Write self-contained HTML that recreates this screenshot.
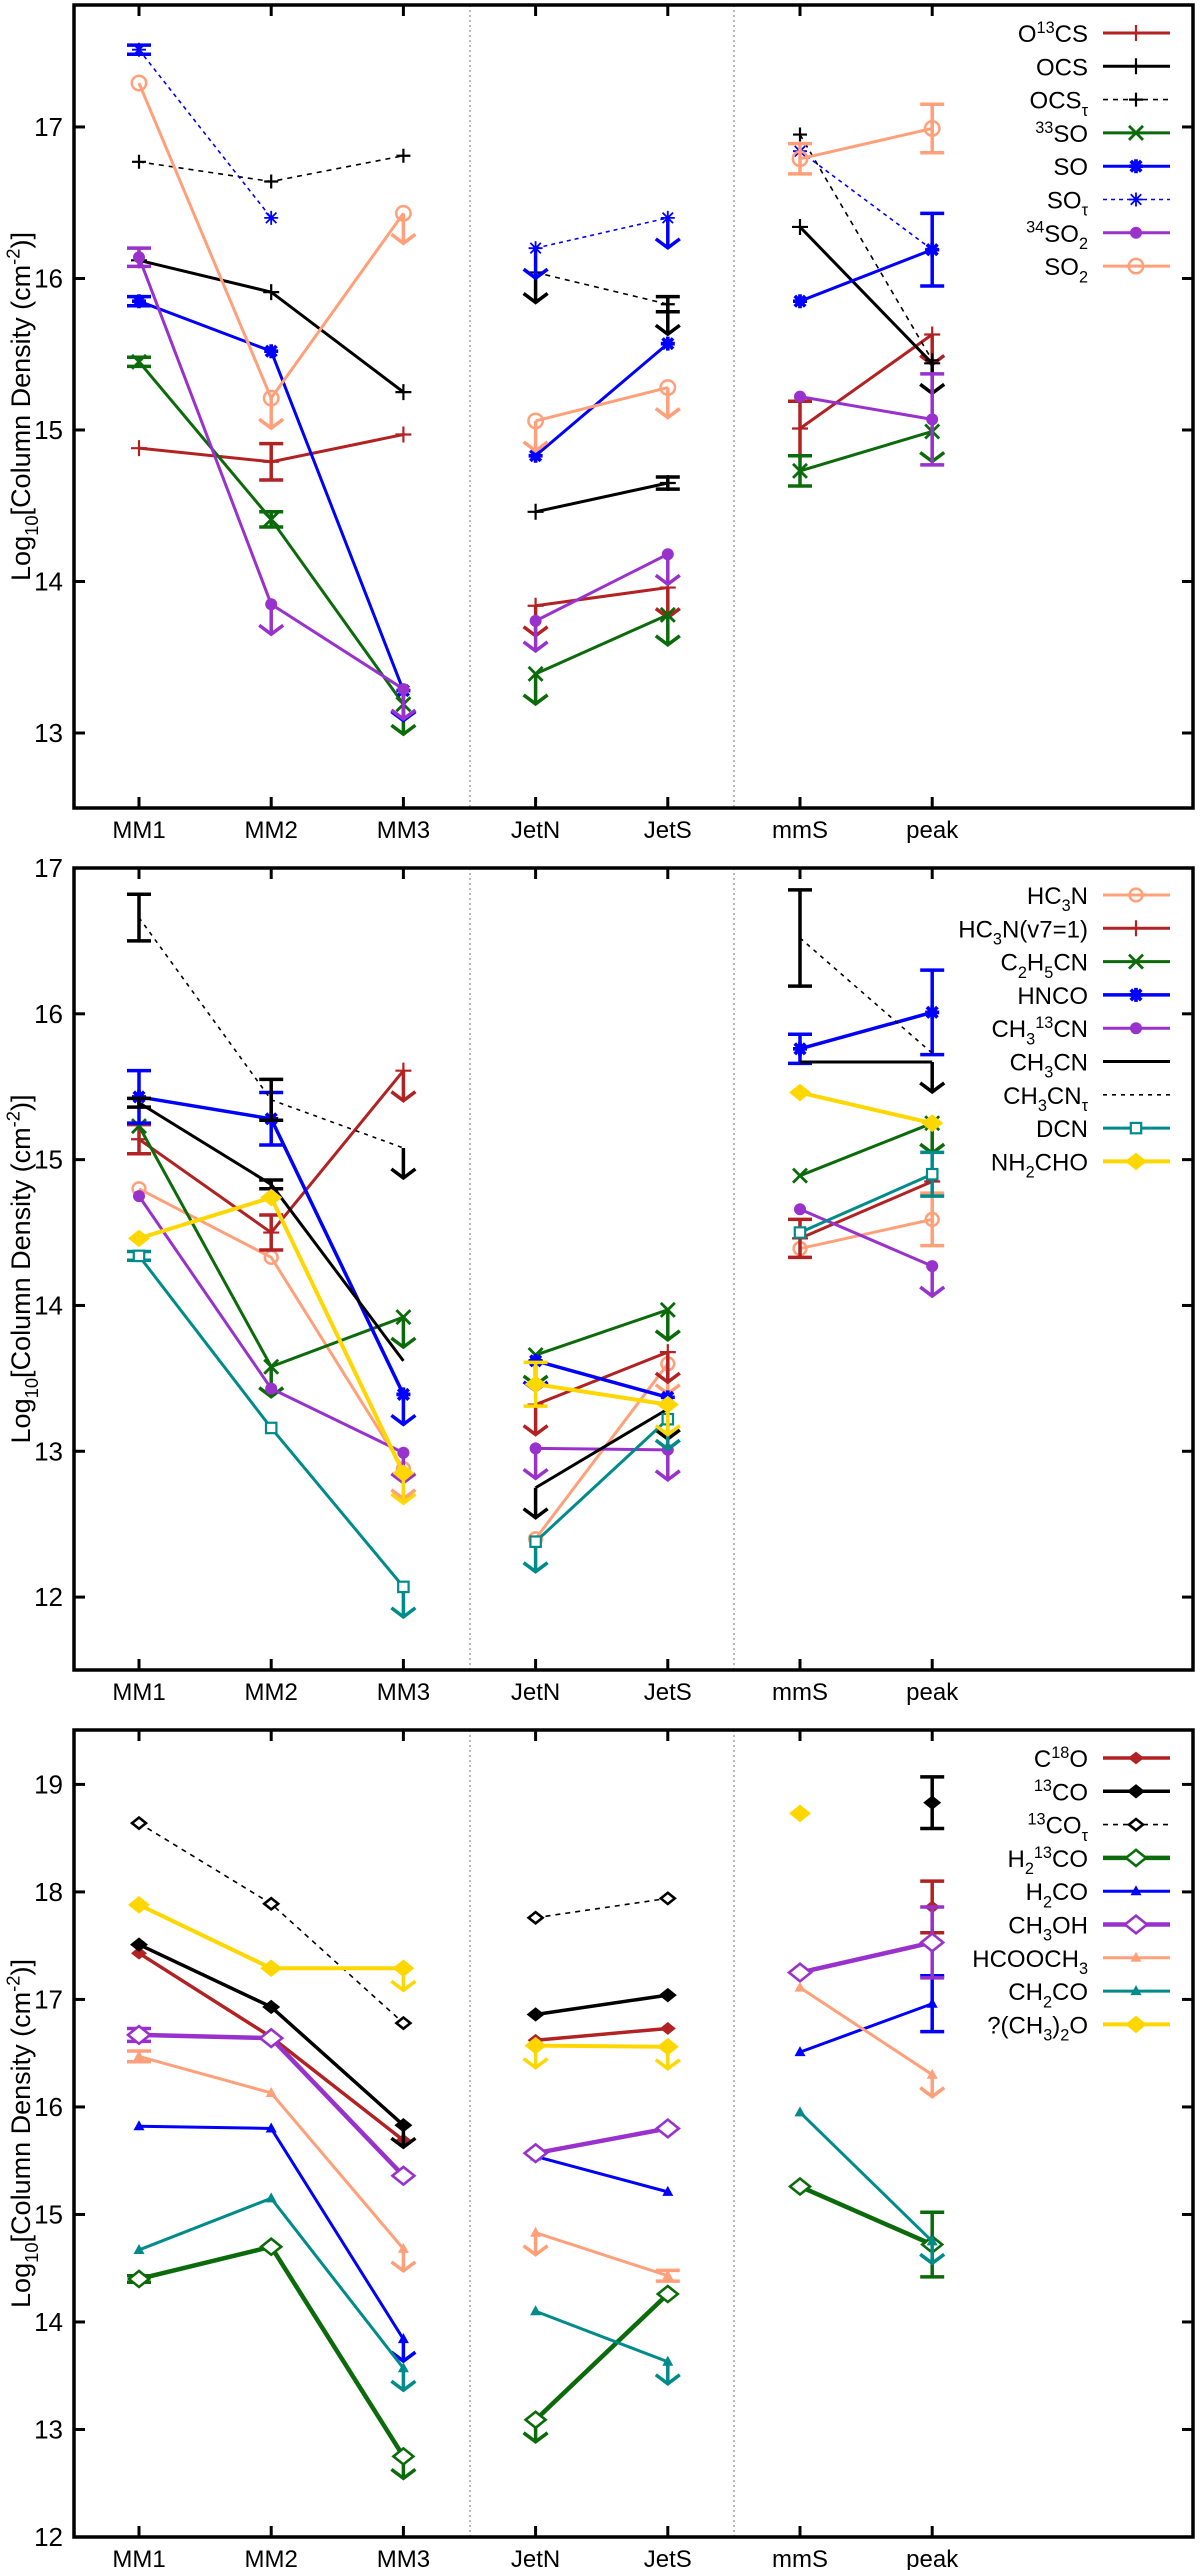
<!DOCTYPE html>
<html><head><meta charset="utf-8"><title>Column densities</title>
<style>
html,body{margin:0;padding:0;background:#fff;}
svg{display:block;font-family:"Liberation Sans",Arial,sans-serif;}
</style></head>
<body>
<svg id="fig" width="1200" height="2570" viewBox="0 0 1200 2570" xmlns="http://www.w3.org/2000/svg"></svg>
<script>
// ---------- shared categories ----------
const categories = ['MM1','MM2','MM3','JetN','JetS','mmS','peak'];
const yTicksP1 = [13,14,15,16,17];
const yTicksP2 = [12,13,14,15,16,17];
const yTicksP3 = [12,13,14,15,16,17,18,19];

// ---------- panel 1 data ----------
const o13csVals = [14.88,14.79,14.97,13.84,13.96,15.01,15.63];
const o13csUL   = [0,0,0,1,1,0,1];
const o13csErr  = [0,0.12,0,0,0,0.18,0];
const ocsVals = [16.12,15.91,15.25,14.46,14.65,16.34,15.44];
const ocsUL   = [0,0,0,0,0,0,1];
const ocsErr  = [0,0,0,0,0.04,0,0];
const ocsTauVals = [16.77,16.64,16.81,16.04,15.83,16.95,15.46];
const ocsTauUL   = [0,0,0,1,1,0,0];
const ocsTauErr  = [0,0,0,0,0.05,0,0];
const so33Vals = [15.45,14.41,13.19,13.39,13.78,14.73,14.99];
const so33UL   = [0,0,1,1,1,0,1];
const so33Err  = [0.03,0.05,0,0,0,0.1,0];
const soVals = [15.85,15.52,13.28,14.83,15.57,15.85,16.19];
const soUL   = [0,0,1,0,0,0,0];
const soErr  = [0.03,0,0,0,0,0,0.24];
const soTauVals = [17.51,16.40,null,16.20,16.40,16.84,16.19];
const soTauUL   = [0,0,0,1,1,0,0];
const soTauErr  = [0.03,0,0,0,0,0,0];
const so2_34Vals = [16.14,13.85,13.29,13.74,14.18,15.22,15.07];
const so2_34UL   = [0,1,1,1,1,0,0];
const so2_34Err  = [0.06,0,0,0,0,0,0.3];
const so2Vals = [17.29,15.21,16.43,15.06,15.28,16.79,16.99];
const so2UL   = [0,1,1,1,1,0,0];
const so2Err  = [0,0,0,0,0,0.1,0.16];

// ---------- panel 2 data ----------
const hc3nVals = [14.80,14.33,12.88,12.40,13.60,14.39,14.59];
const hc3nUL   = [0,0,1,0,1,0,0];
const hc3nErr  = [0,0,0,0,0,0,0.18];
const hc3nv7Vals = [15.14,14.50,15.61,13.32,13.68,14.46,14.85];
const hc3nv7UL   = [0,0,1,1,1,0,0];
const hc3nv7Err  = [0.1,0.12,0,0,0,0.13,0];
const c2h5cnVals = [15.23,13.58,13.92,13.66,13.97,14.89,15.25];
const c2h5cnUL   = [0,1,1,1,1,0,1];
const c2h5cnErr  = [0,0,0,0,0,0,0];
const hncoVals = [15.43,15.28,13.39,13.62,13.37,15.76,16.01];
const hncoUL   = [0,0,1,1,0,0,0];
const hncoErr  = [0.18,0.18,0,0,0,0.1,0.29];
const ch313cnVals = [14.75,13.43,12.99,13.02,13.01,14.66,14.27];
const ch313cnUL   = [0,0,1,1,1,0,1];
const ch313cnErr  = [0,0,0,0,0,0,0];
const ch3cnVals = [15.39,14.83,13.62,12.75,13.29,15.67,15.67];
const ch3cnUL   = [0,0,0,1,1,0,1];
const ch3cnErr  = [0.03,0.03,0,0,0,0,0];
const ch3cnTauVals = [16.66,15.41,15.08,null,null,16.52,15.73];
const ch3cnTauUL   = [0,0,1,0,0,0,0];
const ch3cnTauErr  = [0.16,0.14,0,0,0,0.33,0];
const dcnVals = [14.34,13.16,12.07,12.38,13.22,14.50,14.90];
const dcnUL   = [0,0,1,1,1,0,0];
const dcnErr  = [0.03,0,0,0,0,0,0.15];
const nh2choVals = [14.46,14.74,12.85,13.46,13.32,15.46,15.25];
const nh2choUL   = [0,0,1,0,1,0,0];
const nh2choErr  = [0,0,0,0.15,0,0,0];

// ---------- panel 3 data ----------
const c18oVals = [17.43,16.65,15.69,16.62,16.73,null,17.86];
const c18oUL   = [0,0,0,0,0,0,0];
const c18oErr  = [0,0,0,0,0,0,0.24];
const co13Vals = [17.51,16.93,15.83,16.86,17.04,null,18.83];
const co13UL   = [0,0,1,0,0,0,0];
const co13Err  = [0,0,0,0,0,0,0.24];
const co13TauVals = [18.64,17.89,16.78,17.76,17.94,null,null];
const co13TauUL   = [0,0,0,0,0,0,0];
const co13TauErr  = [0,0,0,0,0,0,0];
const h213coVals = [14.40,14.70,12.75,13.09,14.26,15.26,14.72];
const h213coUL   = [0,0,1,1,0,0,0];
const h213coErr  = [0.03,0,0,0,0,0,0.3];
const h2coVals = [15.82,15.80,13.84,15.54,15.21,16.51,16.96];
const h2coUL   = [0,0,1,0,0,0,0];
const h2coErr  = [0,0,0,0,0,0,0.26];
const ch3ohVals = [16.67,16.64,15.36,15.57,15.80,17.25,17.53];
const ch3ohUL   = [0,0,0,0,0,0,0];
const ch3ohErr  = [0.06,0,0,0,0,0,0.33];
const hcooch3Vals = [16.47,16.13,14.68,14.83,14.43,17.11,16.30];
const hcooch3UL   = [0,0,1,1,0,0,1];
const hcooch3Err  = [0.05,0,0,0,0.05,0,0];
const ch2coVals = [14.67,15.15,13.57,14.10,13.63,15.95,14.75];
const ch2coUL   = [0,0,1,0,1,0,1];
const ch2coErr  = [0,0,0,0,0,0,0];
const dmeVals = [17.88,17.29,17.29,16.57,16.56,18.73,null];
const dmeUL   = [0,0,1,1,1,0,0];
const dmeErr  = [0,0,0,0,0,0,0];

// ---------- layout ----------
const NS = 'http://www.w3.org/2000/svg';
const svg = document.getElementById('fig');
const X0 = 74, X1 = 1193;
const groups = [[0,1,2],[3,4],[5,6]];
function xScale(i){ return 139 + i*132.2; }
const RED='#b22222', BLK='#000', GRN='#0b6b0b', BLU='#0000ff', PUR='#9932cc', SAL='#ffa07a', TEAL='#008b8b', YEL='#ffd700';

function el(tag, attrs, parent){
  const e = document.createElementNS(NS, tag);
  for (const k in attrs) e.setAttribute(k, attrs[k]);
  (parent||svg).appendChild(e);
  return e;
}

// rich label: ^{..} superscript, _{..} subscript
function richText(t, str, fs){
  const re = /([\^_])\{([^}]*)\}/g;
  let last = 0, m, shift = 0;
  const parts = [];
  while ((m = re.exec(str))){
    if (m.index > last) parts.push([str.slice(last, m.index), 0]);
    parts.push([m[2], m[1]==='^' ? -1 : 1]);
    last = re.lastIndex;
  }
  if (last < str.length) parts.push([str.slice(last), 0]);
  for (const [s, mode] of parts){
    const sp = document.createElementNS(NS,'tspan');
    const target = mode===-1 ? -0.38*fs : mode===1 ? 0.3*fs : 0;
    sp.setAttribute('dy', (target - shift).toFixed(1));
    shift = target;
    if (mode!==0) sp.setAttribute('font-size', (fs*0.68).toFixed(1));
    sp.textContent = s;
    t.appendChild(sp);
  }
}

function marker(g, type, x, y, color, s){
  const sw = 2.2;
  if (type==='plus'){
    el('path',{d:`M${x-s} ${y}H${x+s}M${x} ${y-s}V${y+s}`,stroke:color,'stroke-width':sw,fill:'none'},g);
  } else if (type==='x'){
    el('path',{d:`M${x-s} ${y-s}L${x+s} ${y+s}M${x-s} ${y+s}L${x+s} ${y-s}`,stroke:color,'stroke-width':sw+0.6,fill:'none'},g);
  } else if (type==='star' || type==='starb'){
    const w = type==='starb'? sw+1.5 : 1.8;
    el('path',{d:`M${x-s} ${y}H${x+s}M${x} ${y-s}V${y+s}M${x-s*0.75} ${y-s*0.75}L${x+s*0.75} ${y+s*0.75}M${x-s*0.75} ${y+s*0.75}L${x+s*0.75} ${y-s*0.75}`,stroke:color,'stroke-width':w,fill:'none'},g);
  } else if (type==='dot'){
    el('circle',{cx:x,cy:y,r:s*0.75,fill:color},g);
  } else if (type==='circ'){
    el('circle',{cx:x,cy:y,r:s*0.8,fill:'none',stroke:color,'stroke-width':2.5},g);
  } else if (type==='sq'){
    el('rect',{x:x-s*0.65,y:y-s*0.65,width:s*1.3,height:s*1.3,fill:'#fff',stroke:color,'stroke-width':2.2},g);
  } else if (type==='dia'){
    el('path',{d:`M${x-s} ${y}L${x} ${y-s*0.8}L${x+s} ${y}L${x} ${y+s*0.8}Z`,fill:color},g);
  } else if (type==='odia'){
    el('path',{d:`M${x-s} ${y}L${x} ${y-s*0.8}L${x+s} ${y}L${x} ${y+s*0.8}Z`,fill:'#fff',stroke:color,'stroke-width':2.6},g);
  } else if (type==='tri'){
    el('path',{d:`M${x-s*0.55} ${y+s*0.4}L${x} ${y-s*0.6}L${x+s*0.55} ${y+s*0.4}Z`,fill:color},g);
  }
}

function drawPanel(p){
  const pg = el('g',{});
  
  
  const yS = v => p.top + (p.vmax - v)/(p.vmax - p.vmin)*(p.bottom - p.top);
  // separators
  for (const sx of [470, 734]){
    const sep = el('line',{x1:sx,x2:sx,y1:p.top,y2:p.bottom,stroke:'#888','stroke-width':1.2,'stroke-dasharray':'2 3'},pg);
    
    
  }
  // ticks & labels
  const axg = el('g',{},pg);
  
  
  p.ticks.forEach(v=>{
    const y = yS(v);
    el('line',{x1:X0,x2:X0+11,y1:y,y2:y,stroke:'#000','stroke-width':3},axg);
    el('line',{x1:X1-11,x2:X1,y1:y,y2:y,stroke:'#000','stroke-width':3},axg);
    const t = el('text',{x:63,y:y+9,'text-anchor':'end','font-size':26},axg);
    t.textContent = v;
    
    
  });
  categories.forEach((c,i)=>{
    const x = xScale(i);
    el('line',{x1:x,x2:x,y1:p.bottom,y2:p.bottom-11,stroke:'#000','stroke-width':3},axg);
    el('line',{x1:x,x2:x,y1:p.top,y2:p.top+11,stroke:'#000','stroke-width':3},axg);
    const t = el('text',{x:x,y:p.bottom+30,'text-anchor':'middle','font-size':24},axg);
    t.textContent = c;
    
    
  });
  const frame = el('rect',{x:X0,y:p.top,width:X1-X0,height:p.bottom-p.top,fill:'none',stroke:'#000','stroke-width':3.5},axg);
  
  
  // y title
  const cy = (p.top+p.bottom)/2;
  const yt = el('text',{x:0,y:0,'text-anchor':'middle','font-size':27,transform:`translate(30 ${cy}) rotate(-90)`},pg);
  richText(yt,'Log_{10}[Column Density (cm^{-2})]',27);
  
  

  // series
  p.series.forEach((s, si)=>{
    const sg = el('g',{},pg);
    
    
    const dash = s.dash ? {'stroke-dasharray':s.dash} : {};
    groups.forEach(gr=>{
      const pts = gr.filter(i=>s.vals[i]!==null).map(i=>`${xScale(i)},${yS(s.vals[i])}`);
      if (pts.length>1){
        const ln = el('polyline',Object.assign({points:pts.join(' '),fill:'none',stroke:s.color,'stroke-width':s.lw},dash),sg);
        
        
      }
    });
    s.vals.forEach((v,i)=>{
      if (v===null) return;
      const x = xScale(i), y = yS(v);
      const e = s.err[i];
      if (e>0){
        const y1 = yS(v+e), y2 = yS(v-e);
        const eb = el('path',{d:`M${x} ${y1}V${y2}M${x-12} ${y1}H${x+12}M${x-12} ${y2}H${x+12}`,stroke:s.color,'stroke-width':3.5,fill:'none'},sg);
        
        
      }
      if (s.ul[i]){
        const L = p.arrow, yb = y+L;
        const ar = el('path',{d:`M${x} ${y}V${yb}M${x-12} ${yb-9}L${x} ${yb}L${x+12} ${yb-9}`,stroke:s.color,'stroke-width':3.5,fill:'none'},sg);
        
        
      }
      if (s.mk){
        const mg = el('g',{},sg);
        
        
        marker(mg, s.mk, x, y, s.color, s.ms);
      }
    });
  });

  // legend
  const lg = el('g',{},pg);
  
  
  p.series.forEach((s,i)=>{
    const y = p.legTop + i*33.3;
    const eg = el('g',{},lg);
    
    
    const t = el('text',{x:1088,y:y+9,'text-anchor':'end','font-size':24},eg);
    richText(t, s.label, 24);
    const dash = s.dash ? {'stroke-dasharray':s.dash} : {};
    el('line',Object.assign({x1:1103,x2:1170,y1:y,y2:y,stroke:s.color,'stroke-width':s.lw},dash),eg);
    if (s.mk) marker(eg, s.mk, 1136, y, s.color, s.ms);
  });
}

drawPanel({name:'panel-sulfur', top:5, bottom:808, vmax:17.805, vmin:12.505, ticks:yTicksP1, arrow:30, legTop:33, series:[
  {id:'o13cs',label:'O^{13}CS',vals:o13csVals,ul:o13csUL,err:o13csErr,color:RED,lw:3,mk:'plus',ms:8},
  {id:'ocs',label:'OCS',vals:ocsVals,ul:ocsUL,err:ocsErr,color:BLK,lw:3,mk:'plus',ms:8},
  {id:'ocs-tau',label:'OCS_{τ}',vals:ocsTauVals,ul:ocsTauUL,err:ocsTauErr,color:BLK,lw:1.6,dash:'5 5',mk:'plus',ms:7},
  {id:'so33',label:'^{33}SO',vals:so33Vals,ul:so33UL,err:so33Err,color:GRN,lw:3,mk:'x',ms:7},
  {id:'so',label:'SO',vals:soVals,ul:soUL,err:soErr,color:BLU,lw:3,mk:'starb',ms:7},
  {id:'so-tau',label:'SO_{τ}',vals:soTauVals,ul:soTauUL,err:soTauErr,color:BLU,lw:1.6,dash:'4 4',mk:'star',ms:7},
  {id:'so2-34',label:'^{34}SO_{2}',vals:so2_34Vals,ul:so2_34UL,err:so2_34Err,color:PUR,lw:3,mk:'dot',ms:8},
  {id:'so2',label:'SO_{2}',vals:so2Vals,ul:so2UL,err:so2Err,color:SAL,lw:3,mk:'circ',ms:9}
]});

drawPanel({name:'panel-nitrogen', top:868, bottom:1670, vmax:17.0, vmin:11.5, ticks:yTicksP2, arrow:30, legTop:895, series:[
  {id:'hc3n',label:'HC_{3}N',vals:hc3nVals,ul:hc3nUL,err:hc3nErr,color:SAL,lw:3,mk:'circ',ms:8},
  {id:'hc3n-v7',label:'HC_{3}N(v7=1)',vals:hc3nv7Vals,ul:hc3nv7UL,err:hc3nv7Err,color:RED,lw:3,mk:'plus',ms:8},
  {id:'c2h5cn',label:'C_{2}H_{5}CN',vals:c2h5cnVals,ul:c2h5cnUL,err:c2h5cnErr,color:GRN,lw:3,mk:'x',ms:7},
  {id:'hnco',label:'HNCO',vals:hncoVals,ul:hncoUL,err:hncoErr,color:BLU,lw:3.5,mk:'starb',ms:7},
  {id:'ch3-13cn',label:'CH_{3}^{13}CN',vals:ch313cnVals,ul:ch313cnUL,err:ch313cnErr,color:PUR,lw:3,mk:'dot',ms:8},
  {id:'ch3cn',label:'CH_{3}CN',vals:ch3cnVals,ul:ch3cnUL,err:ch3cnErr,color:BLK,lw:3,mk:null,ms:0},
  {id:'ch3cn-tau',label:'CH_{3}CN_{τ}',vals:ch3cnTauVals,ul:ch3cnTauUL,err:ch3cnTauErr,color:BLK,lw:1.6,dash:'4 5',mk:null,ms:0},
  {id:'dcn',label:'DCN',vals:dcnVals,ul:dcnUL,err:dcnErr,color:TEAL,lw:3,mk:'sq',ms:8},
  {id:'nh2cho',label:'NH_{2}CHO',vals:nh2choVals,ul:nh2choUL,err:nh2choErr,color:YEL,lw:4,mk:'dia',ms:11}
]});

drawPanel({name:'panel-oxygen', top:1730, bottom:2537, vmax:19.506, vmin:12.0, ticks:yTicksP3, arrow:22, legTop:1758, series:[
  {id:'c18o',label:'C^{18}O',vals:c18oVals,ul:c18oUL,err:c18oErr,color:RED,lw:3.5,mk:'dia',ms:8},
  {id:'co13',label:'^{13}CO',vals:co13Vals,ul:co13UL,err:co13Err,color:BLK,lw:3.5,mk:'dia',ms:9},
  {id:'co13-tau',label:'^{13}CO_{τ}',vals:co13TauVals,ul:co13TauUL,err:co13TauErr,color:BLK,lw:1.6,dash:'5 5',mk:'odia',ms:7},
  {id:'h2-13co',label:'H_{2}^{13}CO',vals:h213coVals,ul:h213coUL,err:h213coErr,color:GRN,lw:4.5,mk:'odia',ms:10},
  {id:'h2co',label:'H_{2}CO',vals:h2coVals,ul:h2coUL,err:h2coErr,color:BLU,lw:3,mk:'tri',ms:10},
  {id:'ch3oh',label:'CH_{3}OH',vals:ch3ohVals,ul:ch3ohUL,err:ch3ohErr,color:PUR,lw:4.5,mk:'odia',ms:11},
  {id:'hcooch3',label:'HCOOCH_{3}',vals:hcooch3Vals,ul:hcooch3UL,err:hcooch3Err,color:SAL,lw:3,mk:'tri',ms:10},
  {id:'ch2co',label:'CH_{2}CO',vals:ch2coVals,ul:ch2coUL,err:ch2coErr,color:TEAL,lw:3,mk:'tri',ms:10},
  {id:'dme',label:'?(CH_{3})_{2}O',vals:dmeVals,ul:dmeUL,err:dmeErr,color:YEL,lw:4,mk:'dia',ms:11}
]});
</script>
</body></html>
